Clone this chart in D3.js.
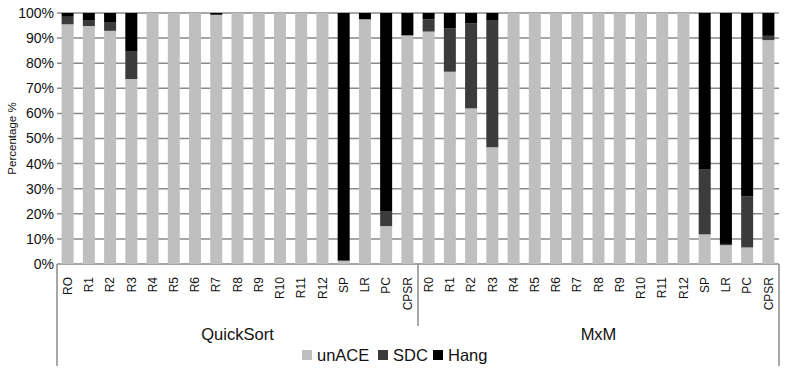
<!DOCTYPE html>
<html>
<head>
<meta charset="utf-8">
<script src="https://cdn.jsdelivr.net/npm/d3@7"></script>
<style>
  body { margin: 0; background: #fff; }
  text { font-family: "Liberation Sans", Arial, sans-serif; fill: #111; }
</style>
</head>
<body>
<div id="chart"></div>
<script>
const width = 791;
const height = 380;
const margin = { top: 13, right: 12, bottom: 116, left: 57 };

const groups = ["QuickSort", "MxM"];
const regsQuickSort = ["RO", "R1", "R2", "R3", "R4", "R5", "R6", "R7", "R8", "R9", "R10", "R11", "R12", "SP", "LR", "PC", "CPSR"];
const regsMxM = ["R0", "R1", "R2", "R3", "R4", "R5", "R6", "R7", "R8", "R9", "R10", "R11", "R12", "SP", "LR", "PC", "CPSR"];
const series = ["unACE", "SDC", "Hang"];
const colors = ["#bfbfbf", "#3b3b3b", "#000000"];

// QuickSort
const unaceQuickSort = [95.5, 94.8, 92.9, 73.7, 100, 100, 100, 99.3, 100, 100, 100, 100, 100, 1.2, 97.5, 15.1, 91.1];
const sdcQuickSort = [3.0, 2.4, 3.5, 10.9, 0, 0, 0, 0, 0, 0, 0, 0, 0, 0.3, 0, 6.0, 0];
const hangQuickSort = [1.5, 2.8, 3.6, 15.4, 0, 0, 0, 0.7, 0, 0, 0, 0, 0, 98.5, 2.5, 78.9, 8.9];
// MxM
const unaceMxM = [92.6, 76.6, 62.0, 46.5, 100, 100, 100, 100, 100, 100, 100, 100, 100, 11.8, 7.5, 6.6, 89.2];
const sdcMxM = [4.9, 17.2, 33.8, 50.7, 0, 0, 0, 0, 0, 0, 0, 0, 0, 25.8, 0.5, 20.4, 1.7];
const hangMxM = [2.5, 6.2, 4.2, 2.8, 0, 0, 0, 0, 0, 0, 0, 0, 0, 62.4, 92.0, 73.0, 9.1];

const yTicks = [0, 10, 20, 30, 40, 50, 60, 70, 80, 90, 100];

const rows = [];
regsQuickSort.forEach((r, i) =>
  rows.push({ key: "QuickSort|" + r, label: r, unACE: unaceQuickSort[i], SDC: sdcQuickSort[i], Hang: hangQuickSort[i] })
);
regsMxM.forEach((r, i) =>
  rows.push({ key: "MxM|" + r, label: r, unACE: unaceMxM[i], SDC: sdcMxM[i], Hang: hangMxM[i] })
);

const svg = d3.select("#chart").append("svg").attr("width", width).attr("height", height);

const x = d3
  .scaleBand()
  .domain(rows.map((d) => d.key))
  .range([margin.left, width - margin.right])
  .paddingInner(0.435)
  .paddingOuter(0.2175);

const y = d3
  .scaleLinear()
  .domain([0, 100])
  .range([height - margin.bottom, margin.top]);

const baseY = height - margin.bottom;

// gridlines
svg
  .append("g")
  .selectAll("line")
  .data(yTicks)
  .enter()
  .append("line")
  .attr("x1", margin.left)
  .attr("x2", width - margin.right)
  .attr("y1", (d) => y(d))
  .attr("y2", (d) => y(d))
  .attr("stroke", "#8a8a8a")
  .attr("stroke-width", 1.5);

// y axis
const yAxis = svg
  .append("g")
  .attr("transform", `translate(${margin.left}, 0)`)
  .call(d3.axisLeft(y).tickValues(yTicks).tickFormat((d) => d + "%").tickSize(0).tickPadding(3));
yAxis.select(".domain").remove();
yAxis.selectAll("text").style("font-size", "14px").style("font-family", "'Liberation Sans', Arial, sans-serif").attr("fill", "#111");

svg
  .append("text")
  .attr("transform", `translate(16, ${(margin.top + baseY) / 2}) rotate(-90)`)
  .attr("text-anchor", "middle")
  .style("font-size", "11.5px")
  .text("Percentage %");

// stacked bars
const stacked = d3.stack().keys(series)(rows);
svg
  .append("g")
  .selectAll("g")
  .data(stacked)
  .enter()
  .append("g")
  .attr("fill", (d, i) => colors[i])
  .selectAll("rect")
  .data((d) => d)
  .enter()
  .append("rect")
  .attr("x", (d) => x(d.data.key))
  .attr("y", (d) => y(d[1]))
  .attr("width", x.bandwidth())
  .attr("height", (d) => y(d[0]) - y(d[1]));

// x axis labels
const xAxis = svg
  .append("g")
  .attr("transform", `translate(0, ${baseY})`)
  .call(d3.axisBottom(x).tickSize(0).tickFormat((k) => k.split("|")[1]));
xAxis.select(".domain").remove();
xAxis
  .selectAll("text")
  .attr("transform", "rotate(-90)")
  .attr("x", -13)
  .attr("y", 0)
  .attr("dy", "0.35em")
  .style("text-anchor", "end")
  .style("font-size", "12px")
  .style("font-family", "'Liberation Sans', Arial, sans-serif")
  .attr("fill", "#111");

// group separators
const step = x.step();
const x0 = margin.left;
const xMid = x0 + step * regsQuickSort.length;
const xEnd = width - margin.right;
const sep = svg.append("g").attr("stroke", "#8a8a8a").attr("stroke-width", 1.5);
sep.append("line").attr("x1", x0).attr("x2", x0).attr("y1", baseY).attr("y2", 366);
sep.append("line").attr("x1", xEnd).attr("x2", xEnd).attr("y1", baseY).attr("y2", 366);
sep.append("line").attr("x1", xMid).attr("x2", xMid).attr("y1", baseY).attr("y2", 326);

// group labels
svg
  .selectAll(".group-label")
  .data(groups)
  .enter()
  .append("text")
  .attr("class", "group-label")
  .attr("x", (d, i) => (i === 0 ? (x0 + xMid) / 2 : (xMid + xEnd) / 2))
  .attr("y", 340)
  .attr("text-anchor", "middle")
  .style("font-size", "16.5px")
  .text((d) => d);

// legend
const legendX = [302, 378, 433];
const legend = svg
  .append("g")
  .selectAll("g")
  .data(series)
  .enter()
  .append("g")
  .attr("transform", (d, i) => `translate(${legendX[i]}, 355)`);
legend
  .append("rect")
  .attr("x", 0)
  .attr("y", -5)
  .attr("width", 10)
  .attr("height", 10)
  .attr("fill", (d, i) => colors[i]);
legend
  .append("text")
  .attr("x", 15)
  .attr("y", 0)
  .attr("dy", "0.36em")
  .style("font-size", "16.5px")
  .text((d) => d);
</script>
</body>
</html>
